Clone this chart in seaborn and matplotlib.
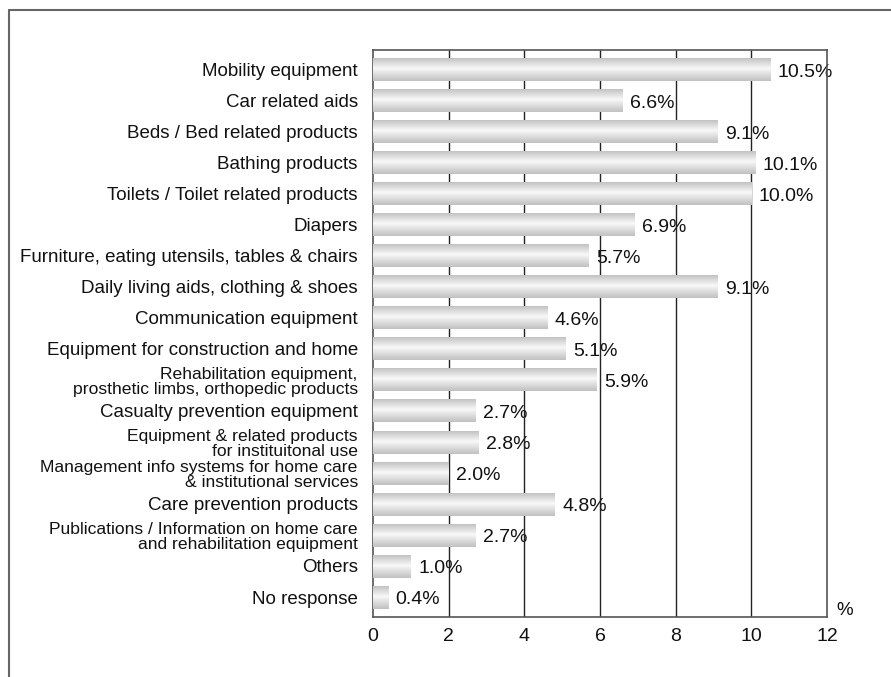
import numpy as np
import pandas as pd
import seaborn as sns
import matplotlib
matplotlib.use("Agg")
from matplotlib import pyplot as plt
from matplotlib.lines import Line2D

categories = [
    "Mobility equipment",
    "Car related aids",
    "Beds / Bed related products",
    "Bathing products",
    "Toilets / Toilet related products",
    "Diapers",
    "Furniture, eating utensils, tables & chairs",
    "Daily living aids, clothing & shoes",
    "Communication equipment",
    "Equipment for construction and home",
    "Rehabilitation equipment,\nprosthetic limbs, orthopedic products",
    "Casualty prevention equipment",
    "Equipment & related products\nfor instituitonal use",
    "Management info systems for home care\n& institutional services",
    "Care prevention products",
    "Publications / Information on home care\nand rehabilitation equipment",
    "Others",
    "No response",
]
values = [10.5, 6.6, 9.1, 10.1, 10.0, 6.9, 5.7, 9.1, 4.6, 5.1,
          5.9, 2.7, 2.8, 2.0, 4.8, 2.7, 1.0, 0.4]
x_ticks = [0, 2, 4, 6, 8, 10, 12]

df = pd.DataFrame({"category": categories, "value": values})

sns.set_style("white")
plt.rcParams["font.family"] = ["Liberation Sans", "DejaVu Sans"]
plt.rcParams["text.color"] = "#111111"
plt.rcParams["xtick.color"] = "#111111"

fig = plt.figure(figsize=(8.91, 6.77), dpi=100)
ax = fig.add_axes([0.4186, 0.0886, 0.5096, 0.8375])

sns.barplot(data=df, x="value", y="category", orient="h", width=0.71,
            color="#dddddd", ax=ax, zorder=3)

# cylinder-like shading on each bar
grad = np.concatenate([np.linspace(0.76, 0.97, 45), np.linspace(0.97, 0.75, 55)])
grad = grad.reshape(-1, 1)
for patch in ax.patches:
    x0, y0 = patch.get_x(), patch.get_y()
    w, h = patch.get_width(), patch.get_height()
    ax.imshow(grad, cmap="gray", vmin=0, vmax=1, aspect="auto",
              extent=(x0, x0 + w, y0 + h, y0), zorder=3, interpolation="bicubic")
    patch.set_visible(False)

ax.set_xlim(0, 12)
ax.set_ylim(len(categories) - 0.38, -0.64)
ax.set_xticks(x_ticks)
ax.set_xticklabels([str(t) for t in x_ticks], fontsize=14)
ax.tick_params(axis="x", length=0, pad=8)
ax.set_xlabel("")
ax.set_ylabel("")
ax.set_yticks(range(len(categories)))
ax.set_yticklabels([])
ax.tick_params(axis="y", length=0)

for t in x_ticks[1:-1]:
    ax.axvline(t, color="#222222", lw=1.0, zorder=2)

for s in ax.spines.values():
    s.set_color("#555555")
    s.set_linewidth(1.2)

for i, (cat, val) in enumerate(zip(categories, values)):
    two = "\n" in cat
    ax.text(-0.4, i + 0.04, cat, ha="right", va="center",
            fontsize=12.6 if two else 13.5,
            linespacing=0.98, transform=ax.transData, clip_on=False)
    ax.text(val + 0.2, i + 0.07, f"{val:.1f}%", ha="left", va="center",
            fontsize=14, zorder=1)

ax.text(12.25, len(categories) - 0.6, "%", ha="left", va="center",
        fontsize=13.5, clip_on=False)

# frame lines of the original page (top and left only)
fig.add_artist(Line2D([9 / 891, 1], [1 - 10 / 677, 1 - 10 / 677],
                      transform=fig.transFigure, color="#666666", lw=1.5))
fig.add_artist(Line2D([9 / 891, 9 / 891], [0, 1 - 10 / 677],
                      transform=fig.transFigure, color="#666666", lw=1.5))

fig.savefig("out.png", dpi=100)
